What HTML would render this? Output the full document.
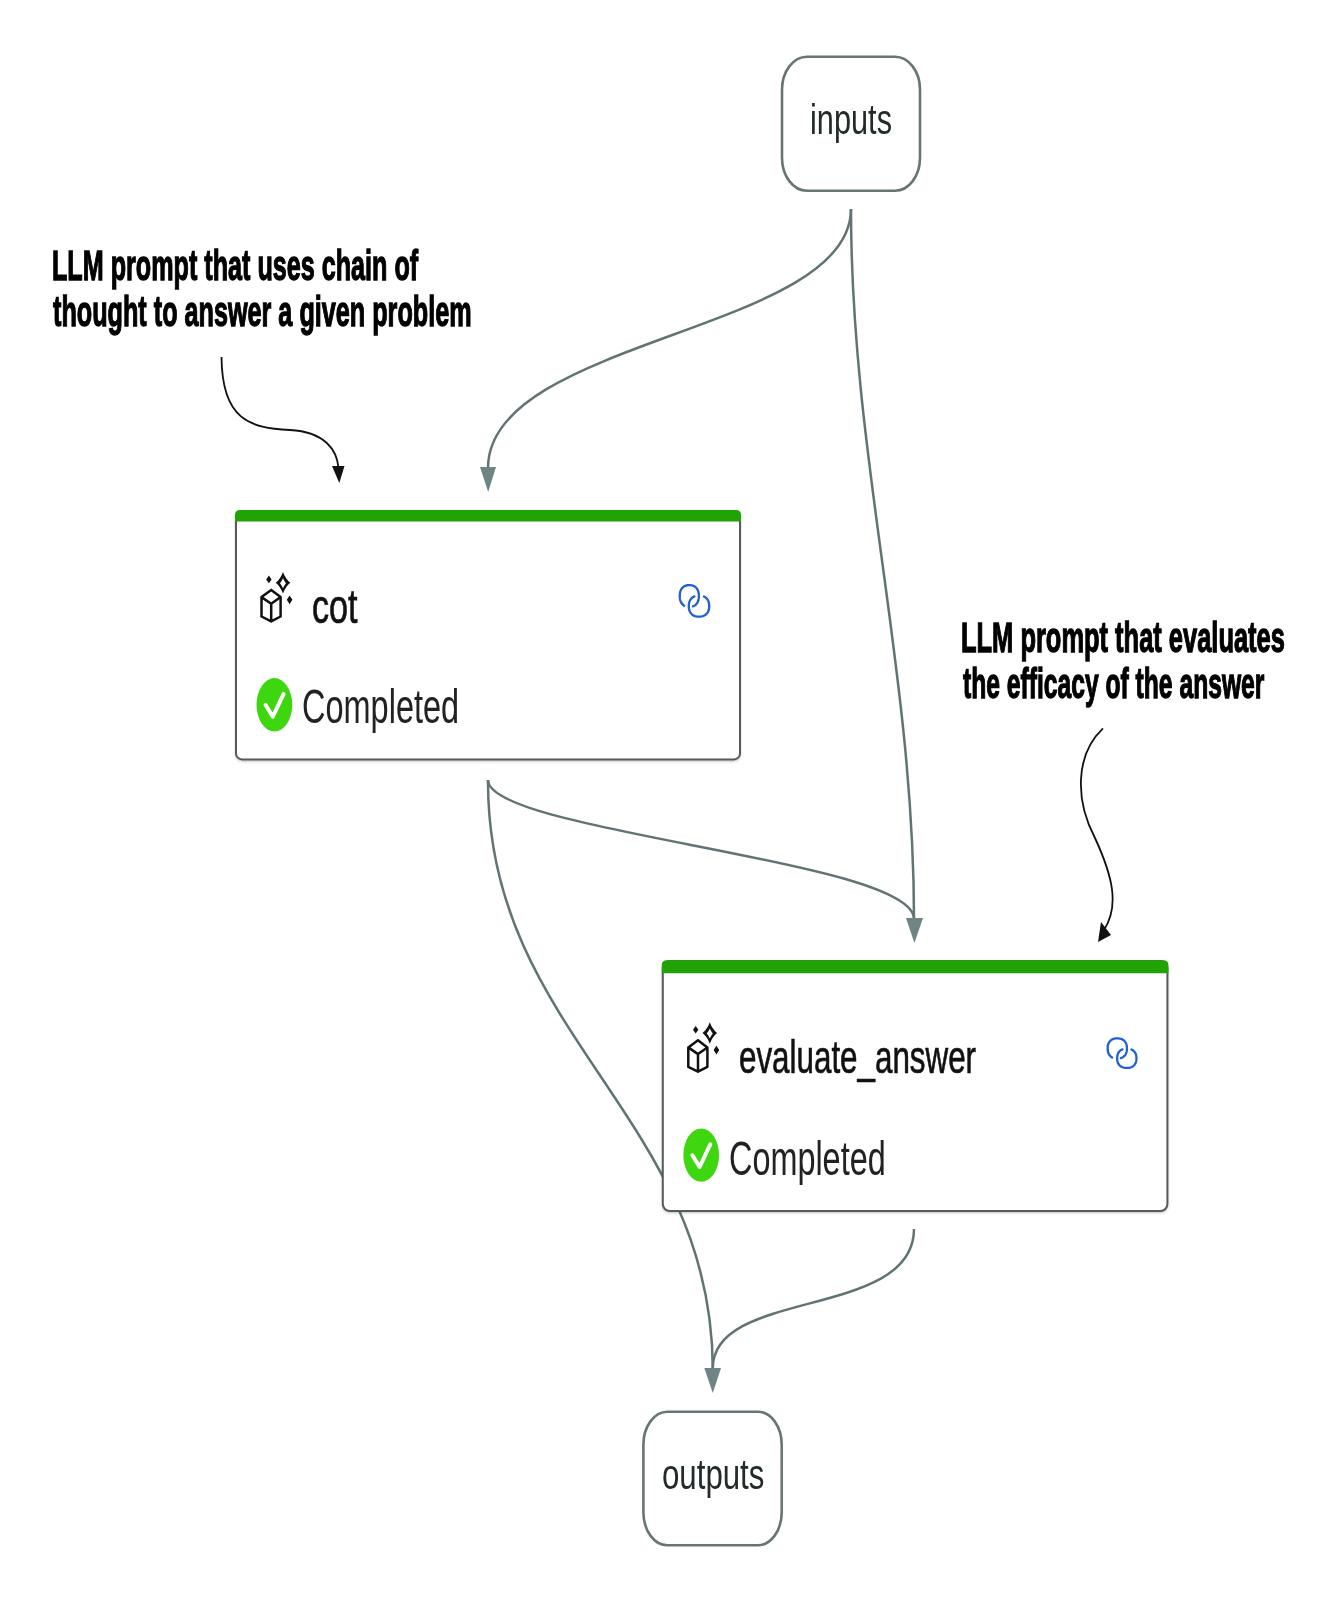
<!DOCTYPE html>
<html>
<head>
<meta charset="utf-8">
<style>
html,body{margin:0;padding:0;background:#fff;}
body{width:1333px;height:1607px;position:relative;overflow:hidden;}
svg.g{position:absolute;left:0;top:0;}
.t{position:absolute;white-space:nowrap;line-height:1;font-family:"Liberation Sans",sans-serif;transform-origin:0 0;}
</style>
</head>
<body>
<svg class="g" width="1333" height="1607" viewBox="0 0 1333 1607">
  <defs><filter id="sh" x="-5%" y="-5%" width="110%" height="115%"><feDropShadow dx="0" dy="1.2" stdDeviation="1.2" flood-color="#000" flood-opacity="0.22"/></filter></defs>
  <!-- edges -->
  <g fill="none" stroke="#617474" stroke-width="2.5">
    <path d="M851 209 C851 332 488 338.5 488 468"/>
    <path d="M851 209 C851 457.5 914 670.5 914 919"/>
    <path d="M488 780 C488 832.1 914 859.9 914 919"/>
    <path d="M488 780 L488 782 C488 1034.84 712.8 1117.16 712.8 1370"/>
    <path d="M914 1229 C914 1319.35 712.8 1288.1 712.8 1368"/>
  </g>
  <g fill="#6f8585">
    <path d="M480 467 L496 467 L488.2 492 Z"/>
    <path d="M906 918 L923 918 L914.4 943 Z"/>
    <path d="M704.3 1368 L721 1368 L712.8 1393 Z"/>
  </g>
  <!-- annotation arrows -->
  <g fill="none" stroke="#111" stroke-width="1.8">
    <path d="M221.5 357 C222 420 250 428 290 430 C325 432 337 450 338.5 468"/>
    <path d="M1103 728.4 C1075 755 1075 800 1095 838 C1112 875 1120 905 1104 930"/>
  </g>
  <g fill="#111">
    <path d="M332 466 L344.5 466 L339.3 483 Z"/>
    <path d="M1101 922 L1111 935 L1098 942 Z"/>
  </g>
  <!-- inputs / outputs -->
  <rect x="782" y="56.7" width="138" height="134.1" rx="25" ry="33" fill="#fff" stroke="#687575" stroke-width="2.6"/>
  <rect x="643.4" y="1411.7" width="138.3" height="133.6" rx="24" ry="33" fill="#fff" stroke="#687575" stroke-width="2.6"/>
  <!-- cot node -->
  <rect x="236" y="511" width="504" height="248.4" rx="6" ry="6" fill="#fff" stroke="#555a5a" stroke-width="2" filter="url(#sh)"/>
  <path d="M235 521.5 L235 515 Q235 510 240 510 L736 510 Q741 510 741 515 L741 521.5 Z" fill="#21a305"/>
  <!-- eval node -->
  <rect x="662.8" y="961" width="504.6" height="250" rx="7" ry="7" fill="#fff" stroke="#555a5a" stroke-width="2" filter="url(#sh)"/>
  <path d="M661.8 973.3 L661.8 965.3 Q661.8 960.3 666.8 960.3 L1163.4 960.3 Q1168.4 960.3 1168.4 965.3 L1168.4 973.3 Z" fill="#21a305"/>

  <defs>
    <g id="ic">
      <g fill="none" stroke="#111" stroke-width="2.5" stroke-linejoin="round" stroke-linecap="round">
        <path d="M35.2 79.9 L44.6 87.1 L44.6 106.5 L35.2 111.4 L25.5 106.5 L25.5 87.1 Z M25.5 87.1 L35.2 93.8 L44.6 87.1 M35.2 93.8 L35.2 111.4"/>
        
      </g>
      <path d="M47.00 61.90 Q49.55 68.92 54.30 72.70 Q49.55 76.48 47.00 83.50 Q44.45 76.48 39.70 72.70 Q44.45 68.92 47.00 61.90 Z M47.00 68.20 Q48.27 71.08 50.00 73.20 Q48.27 75.33 47.00 78.20 Q45.73 75.33 44.00 73.20 Q45.73 71.08 47.00 68.20 Z" fill="#111" fill-rule="evenodd"/>
      <path d="M32.9 65.6 L35.6 69.4 L32.9 73.2 L30.2 69.4 Z M53.6 85.4 L56.4 89.8 L53.6 94.2 L50.8 89.8 Z" fill="#111"/>
      <ellipse cx="38.4" cy="194.8" rx="17.85" ry="26.7" fill="#3dd60f"/>
      <path d="M29.6 195 L36.8 206.7 L47.5 184.1" fill="none" stroke="#fff" stroke-width="4" stroke-linecap="round" stroke-linejoin="round"/>
      
    </g>
  </defs>
  <use href="#ic" transform="translate(236 510)"/>
  <use href="#ic" transform="translate(662.8 960.3)"/>
<g fill="none" stroke="#2160d4" stroke-width="2.3" stroke-linecap="round" stroke-linejoin="round">
    <path d="M1112.20 1057.46 L1111.32 1056.92 L1110.53 1056.28 L1109.82 1055.54 L1109.21 1054.71 L1108.69 1053.79 L1108.28 1052.78 L1107.96 1051.69 L1107.76 1050.49 L1107.66 1049.15 L1107.67 1047.48 L1107.79 1046.17 L1108.01 1045.00 L1108.34 1043.92 L1108.78 1042.93 L1109.31 1042.03 L1109.95 1041.21 L1110.67 1040.49 L1111.48 1039.87 L1112.37 1039.35 L1113.35 1038.93 L1114.41 1038.63 L1115.58 1038.43 L1116.91 1038.35 L1118.48 1038.38 L1119.69 1038.53 L1120.80 1038.79 L1121.81 1039.16 L1122.74 1039.63 L1123.59 1040.21 L1124.35 1040.89 L1125.02 1041.66 L1125.60 1042.53 L1126.08 1043.48 L1126.46 1044.52 L1126.73 1045.65 L1126.89 1046.89 L1126.95 1048.38 L1126.90 1049.94 L1126.74 1051.18 L1126.47 1052.32 L1126.10 1053.36 L1125.63 1054.32 L1125.06 1055.19 L1124.39 1055.97 L1123.64 1056.66 L1122.79 1057.24 L1121.87 1057.72 L1120.86 1058.09"/><path d="M1131.42 1049.47 L1132.34 1049.93 L1133.17 1050.49 L1133.92 1051.14 L1134.58 1051.89 L1135.15 1052.72 L1135.61 1053.63 L1135.98 1054.63 L1136.24 1055.71 L1136.40 1056.89 L1136.45 1058.37 L1136.39 1059.79 L1136.23 1060.97 L1135.96 1062.04 L1135.59 1063.03 L1135.11 1063.94 L1134.54 1064.76 L1133.88 1065.50 L1133.12 1066.15 L1132.28 1066.70 L1131.36 1067.16 L1130.36 1067.52 L1129.26 1067.77 L1128.06 1067.91 L1126.53 1067.95 L1125.17 1067.88 L1124.01 1067.70 L1122.94 1067.42 L1121.96 1067.04 L1121.06 1066.55 L1120.25 1065.97 L1119.52 1065.29 L1118.88 1064.53 L1118.34 1063.68 L1117.89 1062.75 L1117.55 1061.74 L1117.31 1060.63 L1117.18 1059.41 L1117.15 1057.85 L1117.24 1056.53 L1117.42 1055.38 L1117.72 1054.33 L1118.11 1053.36 L1118.61 1052.47 L1119.20 1051.66 L1119.89 1050.94 L1120.66 1050.32 L1121.52 1049.78 L1122.46 1049.35"/><path d="M684.25 605.68 L683.38 605.10 L682.60 604.41 L681.90 603.62 L681.29 602.73 L680.78 601.74 L680.37 600.65 L680.06 599.48 L679.86 598.20 L679.76 596.75 L679.77 594.96 L679.89 593.55 L680.11 592.29 L680.44 591.14 L680.87 590.07 L681.40 589.10 L682.02 588.23 L682.74 587.45 L683.54 586.78 L684.43 586.22 L685.39 585.78 L686.44 585.45 L687.59 585.24 L688.92 585.15 L690.46 585.19 L691.67 585.34 L692.76 585.62 L693.76 586.02 L694.69 586.53 L695.52 587.15 L696.28 587.88 L696.94 588.71 L697.51 589.64 L697.99 590.66 L698.36 591.78 L698.63 592.99 L698.79 594.32 L698.85 595.93 L698.80 597.60 L698.64 598.94 L698.38 600.16 L698.01 601.28 L697.54 602.31 L696.98 603.24 L696.32 604.08 L695.57 604.81 L694.74 605.44 L693.82 605.96 L692.82 606.36"/><path d="M703.89 596.54 L704.86 597.04 L705.74 597.65 L706.53 598.36 L707.22 599.17 L707.82 600.08 L708.32 601.07 L708.70 602.15 L708.98 603.33 L709.15 604.62 L709.20 606.23 L709.14 607.77 L708.97 609.05 L708.68 610.22 L708.29 611.30 L707.79 612.29 L707.18 613.18 L706.48 613.99 L705.68 614.69 L704.79 615.29 L703.82 615.79 L702.76 616.18 L701.61 616.45 L700.33 616.61 L698.71 616.65 L697.28 616.57 L696.05 616.38 L694.92 616.08 L693.89 615.66 L692.94 615.13 L692.07 614.50 L691.30 613.76 L690.63 612.93 L690.06 612.00 L689.59 610.99 L689.22 609.89 L688.97 608.69 L688.83 607.36 L688.80 605.66 L688.89 604.23 L689.09 602.97 L689.40 601.83 L689.82 600.77 L690.34 599.80 L690.97 598.93 L691.69 598.14 L692.51 597.46 L693.42 596.88 L694.41 596.41"/>
  </g>
</svg>
<div class="t" style="left:810.3px;top:98.6px;font-size:42.5px;color:#222a2a;transform:scaleX(0.723)">inputs</div>
<div class="t" style="left:661.9px;top:1452.85px;font-size:43.3px;color:#222a2a;transform:scaleX(0.721)">outputs</div>
<div class="t" style="left:311.5px;top:583.3px;font-size:47.6px;color:#111;-webkit-text-stroke:0.7px #111;transform:scaleX(0.718)">cot</div>
<div class="t" style="left:738.5px;top:1033.1px;font-size:47px;color:#111;-webkit-text-stroke:0.7px #111;transform:scaleX(0.667)">evaluate_answer</div>
<div class="t" style="left:301.9px;top:683px;font-size:47.5px;color:#222;transform:scaleX(0.684)">Completed</div>
<div class="t" style="left:728.7px;top:1135.1px;font-size:47.5px;color:#222;transform:scaleX(0.682)">Completed</div>
<div class="t" style="left:52px;top:244.4px;font-size:43px;font-weight:700;color:#000;-webkit-text-stroke:1.3px #000;transform:scaleX(0.585)">LLM prompt that uses chain of</div>
<div class="t" style="left:52.75px;top:290px;font-size:43px;font-weight:700;color:#000;-webkit-text-stroke:1.3px #000;transform:scaleX(0.586)">thought to answer a given problem</div>
<div class="t" style="left:961.4px;top:617.2px;font-size:42.5px;font-weight:700;color:#000;-webkit-text-stroke:1.3px #000;transform:scaleX(0.599)">LLM prompt that evaluates</div>
<div class="t" style="left:962.5px;top:663px;font-size:42.5px;font-weight:700;color:#000;-webkit-text-stroke:1.3px #000;transform:scaleX(0.58)">the efficacy of the answer</div>
</body>
</html>
